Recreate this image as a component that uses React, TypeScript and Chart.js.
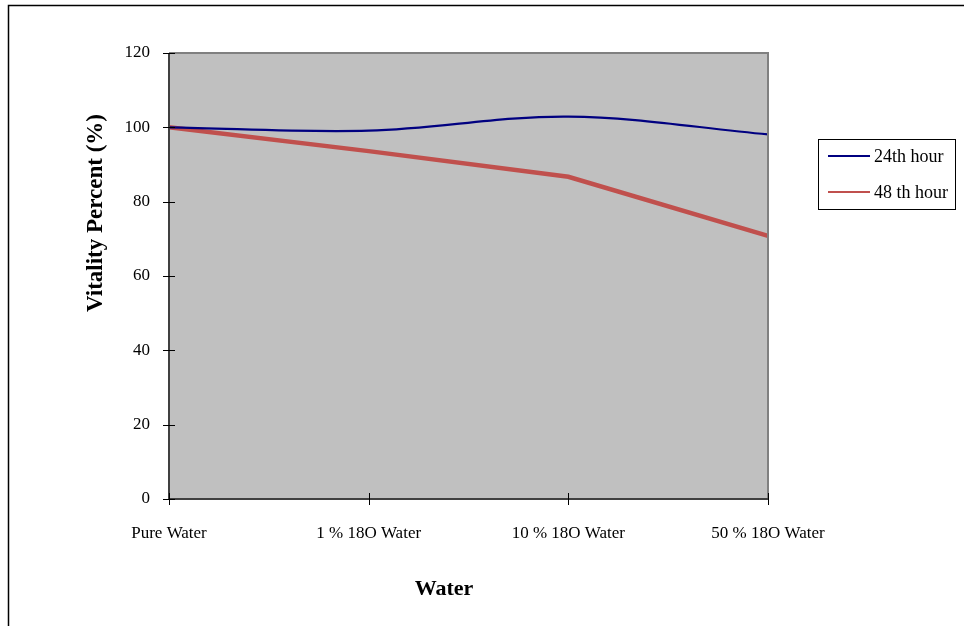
import React, { useEffect, useRef } from "react";
import { Chart, registerables } from "chart.js";

Chart.register(...registerables);

const categories = ["Pure Water", "1 % 18O Water", "10 % 18O Water", "50 % 18O Water"];
const hour24 = [100, 99.1, 102.9, 98.1];
const hour48 = [100, 93.6, 86.7, 70.8];
const seriesNames = ["24th hour", "48 th hour"];
const yTicks = [0, 20, 40, 60, 80, 100, 120];
const yTitle = "Vitality Percent (%)";
const xTitle = "Water";

const BLUE = "#000080";
const RED = "#C0504D";
const SERIF = "'Liberation Serif', 'Times New Roman', serif";

const decorPlugin = {
  id: "decor",
  beforeDraw(chart: any) {
    const { ctx, chartArea: a } = chart;
    ctx.save();
    ctx.fillStyle = "#C0C0C0";
    ctx.fillRect(a.left, a.top, a.right - a.left, a.bottom - a.top);
    ctx.restore();
  },
  afterDraw(chart: any) {
    const { ctx, chartArea: a, scales } = chart;
    ctx.save();
    // plot borders
    ctx.lineWidth = 2;
    ctx.strokeStyle = "#808080";
    ctx.beginPath();
    ctx.moveTo(a.left, a.top);
    ctx.lineTo(a.right, a.top);
    ctx.lineTo(a.right, a.bottom);
    ctx.stroke();
    ctx.strokeStyle = "#404040";
    ctx.beginPath();
    ctx.moveTo(a.left, a.top);
    ctx.lineTo(a.left, a.bottom);
    ctx.lineTo(a.right, a.bottom);
    ctx.stroke();

    // cross tick marks
    ctx.lineWidth = 1;
    ctx.strokeStyle = "#000";
    ctx.beginPath();
    categories.forEach((_, i) => {
      const px = Math.round(scales.x.getPixelForValue(i)) + 0.5;
      ctx.moveTo(px, a.bottom - 6);
      ctx.lineTo(px, a.bottom + 6);
    });
    yTicks.forEach((v) => {
      const py = Math.round(scales.y.getPixelForValue(v)) + 0.5;
      ctx.moveTo(a.left - 6, py);
      ctx.lineTo(a.left + 6, py);
    });
    ctx.stroke();

    // outer frame
    ctx.lineWidth = 1.5;
    ctx.strokeStyle = "#000";
    ctx.beginPath();
    ctx.moveTo(8.5, 640);
    ctx.lineTo(8.5, 5.5);
    ctx.lineTo(980, 5.5);
    ctx.stroke();

    // legend
    const lx = 818, ly = 139, lw = 137, lh = 70;
    ctx.fillStyle = "#fff";
    ctx.fillRect(lx, ly, lw, lh);
    ctx.lineWidth = 1;
    ctx.strokeStyle = "#000";
    ctx.strokeRect(lx + 0.5, ly + 0.5, lw, lh);
    const rows = [
      { name: seriesNames[0], color: BLUE, y: 156 },
      { name: seriesNames[1], color: RED, y: 192 },
    ];
    ctx.font = `18px ${SERIF}`;
    ctx.textAlign = "left";
    ctx.textBaseline = "middle";
    rows.forEach((r) => {
      ctx.strokeStyle = r.color;
      ctx.lineWidth = 2;
      ctx.beginPath();
      ctx.moveTo(828, r.y);
      ctx.lineTo(870, r.y);
      ctx.stroke();
      ctx.fillStyle = "#000";
      ctx.fillText(r.name, 874, r.y + 1);
    });

    // axis titles
    ctx.fillStyle = "#000";
    ctx.font = `bold 22px ${SERIF}`;
    ctx.textAlign = "center";
    ctx.textBaseline = "middle";
    ctx.fillText(xTitle, 444, 589);
    ctx.font = `bold 23px ${SERIF}`;
    ctx.save();
    ctx.translate(96, 213);
    ctx.rotate(-Math.PI / 2);
    ctx.fillText(yTitle, 0, 0);
    ctx.restore();
    ctx.restore();
  },
};

export default function App() {
  const ref = useRef<HTMLCanvasElement>(null);
  useEffect(() => {
    if (!ref.current) return;
    const chart = new Chart(ref.current, {
      type: "line",
      data: {
        labels: categories,
        datasets: [
          {
            label: seriesNames[0],
            data: hour24,
            borderColor: BLUE,
            backgroundColor: BLUE,
            borderWidth: 2.2,
            tension: 0.35,
            pointRadius: 0,
            fill: false,
          },
          {
            label: seriesNames[1],
            data: hour48,
            borderColor: RED,
            backgroundColor: RED,
            borderWidth: 4.5,
            tension: 0,
            pointRadius: 0,
            fill: false,
          },
        ],
      },
      options: {
        animation: false,
        responsive: false,
        devicePixelRatio: 1,
        layout: { padding: { left: 0, top: 53, right: 196, bottom: 0 } },
        plugins: {
          legend: { display: false },
          tooltip: { enabled: false },
        },
        scales: {
          x: {
            type: "category",
            offset: false,
            grid: { drawOnChartArea: false, drawTicks: true, tickLength: 6, color: "transparent" },
            border: { display: false },
            ticks: {
              color: "#000",
              font: { family: SERIF, size: 17 },
              padding: 18,
              maxRotation: 0,
              autoSkip: false,
            },
            afterFit(s: any) {
              s.height = 127;
            },
          },
          y: {
            min: 0,
            max: 120,
            grid: { drawOnChartArea: false, drawTicks: true, tickLength: 5, color: "transparent" },
            border: { display: false },
            afterBuildTicks(s: any) {
              s.ticks = yTicks.map((v) => ({ value: v }));
            },
            ticks: {
              color: "#000",
              font: { family: SERIF, size: 17 },
              padding: 14,
            },
            afterFit(s: any) {
              s.width = 169;
            },
          },
        },
      },
      plugins: [decorPlugin],
    });
    return () => chart.destroy();
  }, []);
  return (
    <div style={{ position: "fixed", left: 0, top: 0, width: 964, height: 626, background: "#fff" }}>
      <canvas ref={ref} width={964} height={626} style={{ display: "block" }} />
    </div>
  );
}
